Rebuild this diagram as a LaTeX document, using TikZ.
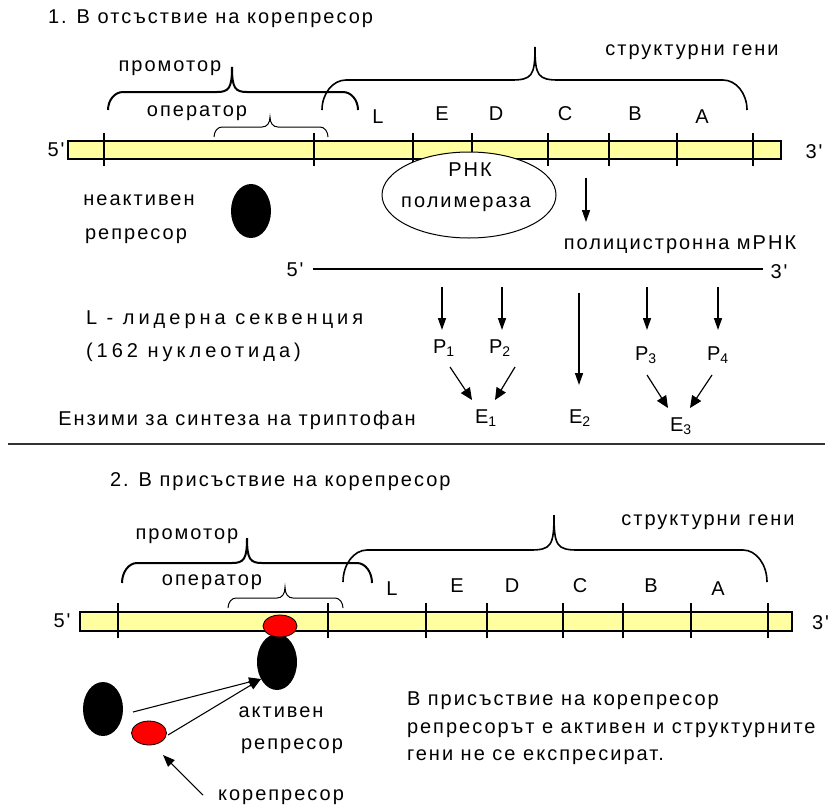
\documentclass[tikz,border=0pt]{standalone}
\usepackage{fontspec}
\newfontfamily\mainf{Liberation Sans}[LetterSpace=10]
\newfontfamily\widef{Liberation Sans}[LetterSpace=20]
\usetikzlibrary{arrows.meta,shapes.geometric}
\definecolor{barfill}{RGB}{255,255,160}
\definecolor{repred}{RGB}{255,0,0}
\newcommand\brc[9]{% a b e h p t r lw extra
  \draw[line width=#8,#9] (#1,#3) .. controls (#1,#4+0.45*#3-0.45*#4) and (#1+0.45*#7,#4) .. (#1+#7,#4)
    -- (#5-#7,#4) .. controls (#5-3,#4) and (#5,#4-4) .. (#5,#6)
    .. controls (#5,#4-4) and (#5+3,#4) .. (#5+#7,#4)
    -- (#2-#7,#4) .. controls (#2-0.45*#7,#4) and (#2,#4+0.45*#3-0.45*#4) .. (#2,#3);}
\tikzset{
  txt/.style={inner sep=0pt, outer sep=0pt},
  gene/.style={inner sep=0pt},
  dna/.style={draw=black, line width=1.1pt, fill=barfill},
  tickmark/.style={line width=1.1pt},
  arr/.style={line width=1.1pt, -{Triangle[length=9pt,width=6pt]}},
  darr/.style={line width=0.9pt, -{Triangle[length=9pt,width=8pt]}},
  thinarr/.style={line width=0.8pt, -{Triangle[length=9pt,width=7pt]}},
  blob/.style={ellipse, fill=black, inner sep=0pt},
  redblob/.style={ellipse, fill=repred, draw=black, line width=0.6pt, inner sep=0pt},
}
\begin{document}
\begin{tikzpicture}[x=0.75pt,y=-0.75pt,font=\mainf\fontsize{15}{18}\selectfont]
\useasboundingbox (0,0) rectangle (830,807);
% ---------------- Section 1 ----------------
\node[txt, anchor=west] (t1) at (48,19) {1. В отсъствие на корепресор};
\brc{108}{358}{110}{92}{232}{67}{15}{1.5pt}{}
\brc{214}{328}{137}{127}{270}{117}{8}{0.75pt}{}
\brc{322}{747}{110}{80}{535}{47}{24}{1.2pt}{}
\node[txt] (prom1) at (170,68) {промотор};
\node[txt] (oper1) at (197,113) {оператор};
\node[txt] (str1) at (692,52) {структурни гени};
\node[gene] (L1) at (378,117) {L};
\node[gene] (E1g) at (442,114) {E};
\node[gene] (D1) at (496,114) {D};
\node[gene] (C1) at (565,114) {C};
\node[gene] (B1) at (635,114) {B};
\node[gene] (A1) at (702,117) {A};
\draw[dna] (68,141) rectangle (781,159);
\foreach \x in {104,314,413,472,548,609,677,753} \draw[tickmark] (\x,133) -- (\x,166);
\node[txt] (five1) at (56,150) {5'};
\node[txt] (three1) at (814,152) {3'};
\node[ellipse, draw=black, fill=white, line width=0.75pt, minimum width=174*0.75pt, minimum height=86*0.75pt, inner sep=0pt] (rnap) at (469,195) {};
\node[txt] (rnk) at (470,170) {РНК};
\node[txt] (polim) at (466,204) {полимераза};
\node[txt] (inact1) at (139,200) {неактивен};
\node[txt] (inact2) at (136,236) {репресор};
\node[blob, minimum width=40*0.75pt, minimum height=54*0.75pt] (rep1) at (251,211) {};
\coordinate (ms) at (586,178);
\coordinate (me) at (586,222);
\draw[arr] (ms) -- (me);
\node[txt] (mrna) at (680,245) {полицистронна мРНК};
\coordinate (m5) at (313,269);
\coordinate (m3) at (763,269);
\draw[line width=1.1pt] (m5) -- (m3);
\node[txt] (five2) at (295,270) {5'};
\node[txt] (three2) at (779,272) {3'};
\node[txt, anchor=west, font=\widef\fontsize{15}{18}\selectfont] (lead1) at (86,320) {L - лидерна секвенция};
\node[txt, anchor=west, font=\widef\fontsize{15}{18}\selectfont] (lead2) at (86,352) {(162 нуклеотида)};
\node[txt] (enz) at (237,420) {Ензими за синтеза на триптофан};
% proteins
\node[txt] (P1) at (444,348) {P\textsubscript{1}};
\node[txt] (P2) at (500,348) {P\textsubscript{2}};
\node[txt] (P3) at (646,355) {P\textsubscript{3}};
\node[txt] (P4) at (718,355) {P\textsubscript{4}};
\node[txt] (En1) at (486,418) {E\textsubscript{1}};
\node[txt] (En2) at (580,418) {E\textsubscript{2}};
\node[txt] (En3) at (681,426) {E\textsubscript{3}};
\coordinate (a1s) at (442,287); \coordinate (a1e) at (442,330);
\coordinate (a2s) at (502,287); \coordinate (a2e) at (502,330);
\coordinate (a3s) at (579,293); \coordinate (a3e) at (579,385);
\coordinate (a4s) at (647,287); \coordinate (a4e) at (647,330);
\coordinate (a5s) at (718,287); \coordinate (a5e) at (718,330);
\draw[arr] (a1s) -- (a1e);
\draw[arr] (a2s) -- (a2e);
\draw[arr] (a3s) -- (a3e);
\draw[arr] (a4s) -- (a4e);
\draw[arr] (a5s) -- (a5e);
\coordinate (d1s) at (450,367); \coordinate (d1e) at (472,400);
\coordinate (d2s) at (515,367); \coordinate (d2e) at (495,400);
\coordinate (d3s) at (647,375); \coordinate (d3e) at (668,408);
\coordinate (d4s) at (712,375); \coordinate (d4e) at (690,408);
\draw[darr] (d1s) -- (d1e);
\draw[darr] (d2s) -- (d2e);
\draw[darr] (d3s) -- (d3e);
\draw[darr] (d4s) -- (d4e);
% separator
\coordinate (sepL) at (8,444);
\coordinate (sepR) at (825,444);
\draw[line width=1.5pt, black!80] (sepL) -- (sepR);
% ---------------- Section 2 ----------------
\node[txt, anchor=west] (t2) at (110,482) {2. В присъствие на корепресор};
\brc{122}{372}{583}{563}{247}{538}{15}{1.5pt}{}
\brc{228}{343}{608}{598}{285}{587}{8}{0.75pt}{}
\brc{343}{767}{582}{550}{554}{515}{24}{1.2pt}{}
\node[txt] (prom2) at (187,536) {промотор};
\node[txt] (oper2) at (212,582) {оператор};
\node[txt] (str2) at (708,522) {структурни гени};
\node[gene] (L2) at (392,589) {L};
\node[gene] (E2g) at (457,586) {E};
\node[gene] (D2) at (512,586) {D};
\node[gene] (C2) at (580,586) {C};
\node[gene] (B2) at (651,586) {B};
\node[gene] (A2) at (718,589) {A};
\draw[dna] (80,612) rectangle (792,631);
\foreach \x in {118,328,426,487,563,623,691,768} \draw[tickmark] (\x,603) -- (\x,638);
\node[txt] (five3) at (62,621) {5'};
\node[txt, anchor=west] (three3) at (812,623) {3'};
\node[blob, minimum width=40*0.75pt, minimum height=56*0.75pt] (rep2) at (277,662) {};
\node[redblob, minimum width=34*0.75pt, minimum height=22*0.75pt] (co2) at (280,626) {};
\node[blob, minimum width=40*0.75pt, minimum height=54*0.75pt] (rep3) at (103,709) {};
\node[redblob, minimum width=35*0.75pt, minimum height=24*0.75pt] (co3) at (149,733) {};
\coordinate (b1s) at (133,712);
\coordinate (b2s) at (168,735);
\coordinate (bt) at (261,679);
\draw[thinarr] (b1s) -- (bt);
\draw[thinarr] (b2s) -- (bt);
\coordinate (cs) at (203,795);
\coordinate (ce) at (163,755);
\draw[thinarr] (cs) -- (ce);
\node[txt] (act1) at (281,712) {активен};
\node[txt] (act2) at (292,746) {репресор};
\node[txt] (corep) at (281,797) {корепресор};
\node[txt, anchor=west] (r1) at (407,701) {В присъствие на корепресор};
\node[txt, anchor=west] (r2) at (407,730) {репресорът е активен и структурните};
\node[txt, anchor=west] (r3) at (407,757) {гени не се експресират.};
\end{tikzpicture}
\end{document}
